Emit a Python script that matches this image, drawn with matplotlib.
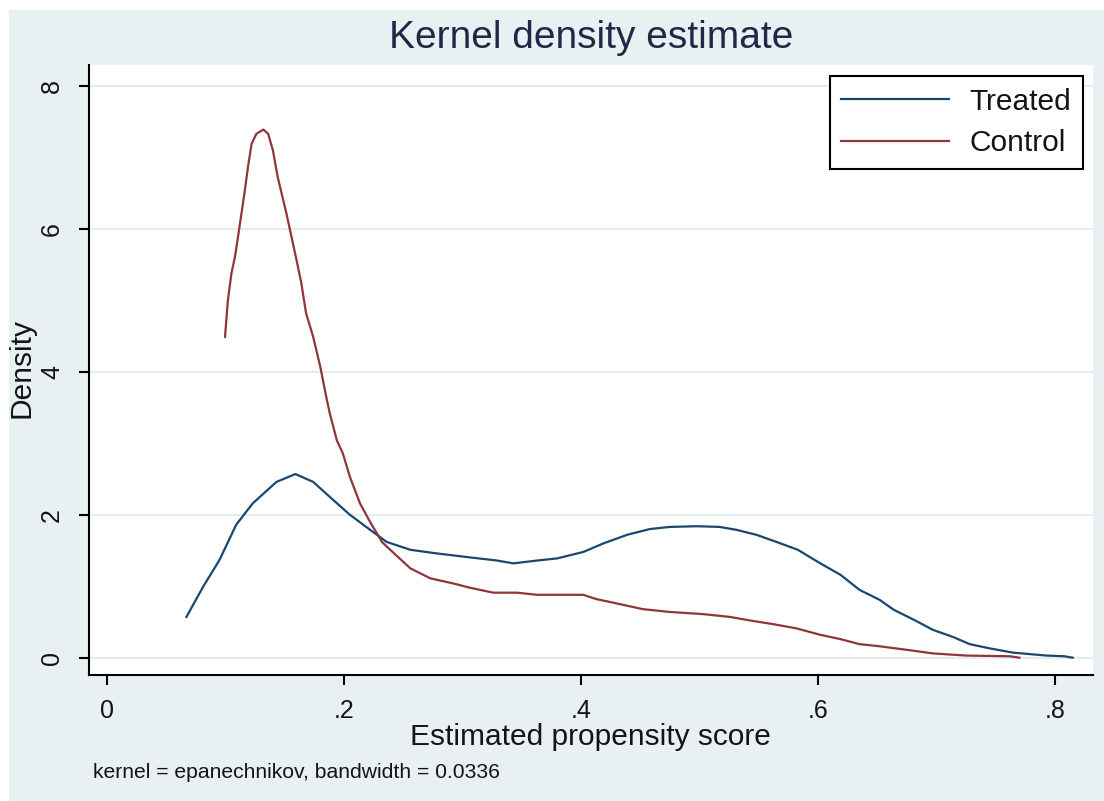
import matplotlib
matplotlib.use('Agg')
import matplotlib.pyplot as plt
from matplotlib.patches import Rectangle

plt.rcParams['font.family'] = ['Liberation Sans', 'DejaVu Sans']

# kernel density curves
treated_x = [0.067, 0.081, 0.095, 0.109, 0.123, 0.143, 0.159, 0.174, 0.188, 0.205,
             0.222, 0.236, 0.256, 0.278, 0.303, 0.329, 0.343, 0.363, 0.380, 0.402,
             0.419, 0.439, 0.458, 0.475, 0.498, 0.517, 0.531, 0.548, 0.565, 0.583,
             0.602, 0.619, 0.635, 0.652, 0.664, 0.681, 0.697, 0.714, 0.728, 0.745,
             0.765, 0.793, 0.808, 0.815]
treated_y = [0.57, 0.99, 1.37, 1.86, 2.16, 2.46, 2.57, 2.46, 2.25, 2.00,
             1.79, 1.62, 1.51, 1.46, 1.41, 1.36, 1.32, 1.36, 1.39, 1.48,
             1.60, 1.72, 1.80, 1.83, 1.84, 1.83, 1.79, 1.72, 1.62, 1.51,
             1.32, 1.16, 0.95, 0.81, 0.67, 0.53, 0.39, 0.29, 0.19, 0.13,
             0.07, 0.03, 0.02, 0.0]

control_x = [0.0996, 0.102, 0.105, 0.108, 0.111, 0.116, 0.119, 0.122, 0.126, 0.132,
             0.136, 0.140, 0.144, 0.1515, 0.160, 0.164, 0.168, 0.174, 0.180, 0.185,
             0.188, 0.194, 0.199, 0.205, 0.2135, 0.222, 0.232, 0.239, 0.256, 0.273,
             0.292, 0.306, 0.326, 0.346, 0.363, 0.402, 0.413, 0.430, 0.452, 0.475,
             0.503, 0.526, 0.543, 0.562, 0.582, 0.602, 0.619, 0.635, 0.652, 0.675,
             0.697, 0.725, 0.762, 0.770]
control_y = [4.49, 5.00, 5.38, 5.61, 5.94, 6.50, 6.87, 7.19, 7.33, 7.39,
             7.33, 7.10, 6.73, 6.21, 5.56, 5.24, 4.82, 4.49, 4.07, 3.65,
             3.42, 3.04, 2.86, 2.53, 2.16, 1.90, 1.62, 1.51, 1.25, 1.11,
             1.04, 0.98, 0.91, 0.91, 0.88, 0.88, 0.82, 0.76, 0.68, 0.64,
             0.61, 0.57, 0.52, 0.47, 0.41, 0.32, 0.26, 0.19, 0.16, 0.11,
             0.06, 0.03, 0.02, 0.0]

x_ticks = [0, 0.2, 0.4, 0.6, 0.8]
x_labels = ['0', '.2', '.4', '.6', '.8']
y_ticks = [0, 2, 4, 6, 8]
y_labels = ['0', '2', '4', '6', '8']

W, H = 1104, 801
bg_col = '#E8F0F2'
txt_col = '#141414'

fig = plt.figure(figsize=(W / 100, H / 100), dpi=100)
fig.patch.set_facecolor('white')
fig.patches.append(Rectangle((9 / W, 0), 1, 1 - 10 / H, transform=fig.transFigure,
                             facecolor=bg_col, edgecolor='none', zorder=-10))

ax = fig.add_axes([89 / W, 1 - 675 / H, (1093 - 89) / W, (675 - 65) / H])
ax.set_facecolor('white')
ax.set_xlim(-0.0152, 0.8321)
ax.set_ylim(-0.242, 8.294)

for y in y_ticks:
    ax.axhline(y, color='#E4EEF0', lw=1.6, zorder=0)

ax.plot(treated_x, treated_y, color='#1A476F', lw=1.6, label='Treated')
ax.plot(control_x, control_y, color='#90353B', lw=1.6, label='Control')

for s in ['top', 'right']:
    ax.spines[s].set_visible(False)
for s in ['left', 'bottom']:
    ax.spines[s].set_linewidth(1.5)
    ax.spines[s].set_color('black')

ax.set_xticks(x_ticks)
ax.set_xticklabels(x_labels)
ax.set_yticks(y_ticks)
ax.set_yticklabels(y_labels, rotation=90, va='center')
ax.tick_params(axis='both', length=7, width=1.5, labelsize=18, labelcolor=txt_col)
ax.tick_params(axis='x', pad=10)
ax.tick_params(axis='y', pad=11)

leg = ax.legend(loc='upper right', bbox_to_anchor=(1083 / W, 1 - 76 / H),
                bbox_transform=fig.transFigure, fontsize=21.5, frameon=True,
                fancybox=False, framealpha=1, edgecolor='black',
                handlelength=3.6, handletextpad=0.7, borderpad=0.39,
                labelspacing=0.45, borderaxespad=0)
leg.get_frame().set_linewidth(1.5)
for t in leg.get_texts():
    t.set_color(txt_col)

fig.text(591 / W, 1 - 38 / H, 'Kernel density estimate', ha='center', va='center',
         fontsize=28, color='#1c2a48')
fig.text(590 / W, 1 - 737 / H, 'Estimated propensity score', ha='center', va='center',
         fontsize=21.5, color=txt_col)
fig.text(22 / W, 1 - 368 / H, 'Density', ha='center', va='center', rotation=90,
         fontsize=21.5, color=txt_col)
fig.text(93 / W, 1 - 773 / H, 'kernel = epanechnikov, bandwidth = 0.0336',
         ha='left', va='center', fontsize=15.2, color=txt_col)

fig.savefig('out.png', dpi=100, facecolor=fig.get_facecolor())
